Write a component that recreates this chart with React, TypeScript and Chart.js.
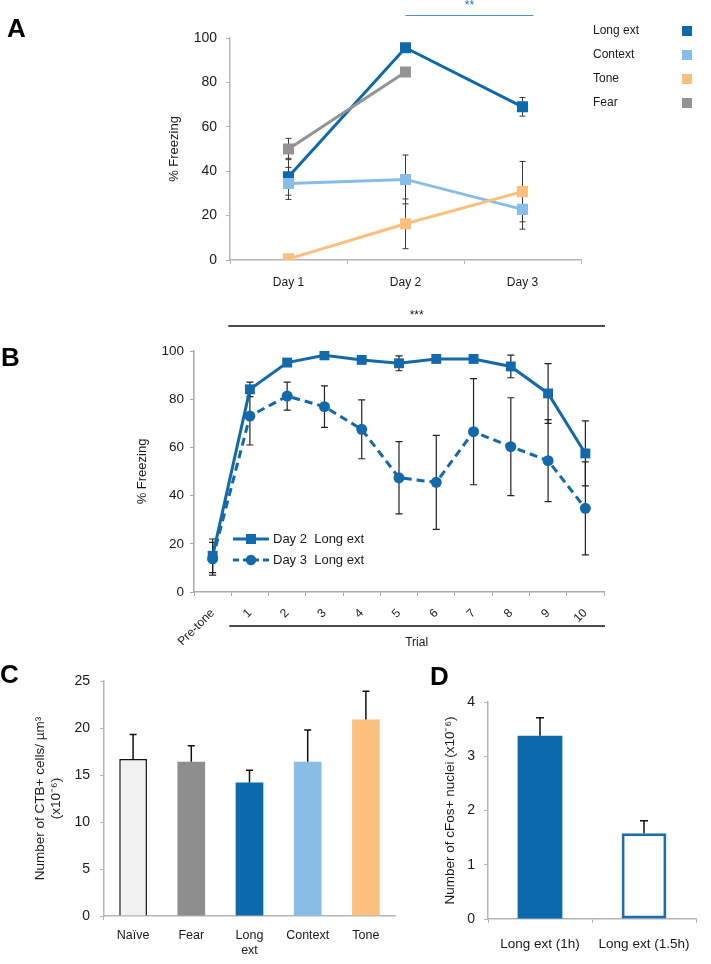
import React, { useEffect, useRef } from 'react';
import { Chart, registerables } from 'chart.js';

Chart.register(...registerables);

const FONT = '"Liberation Sans", Arial, Helvetica, sans-serif';
Chart.defaults.font.family = FONT;
Chart.defaults.color = '#1a1a1a';

// ---------------- Panel A data ----------------
const daysA = ['Day 1', 'Day 2', 'Day 3'];
const legendA = ['Long ext', 'Context', 'Tone', 'Fear'];
const longExtA = [37.5, 95.6, 69.0];
const longExtErrA = [8.3, 1.5, 4.2];
const contextA = [34.5, 36.3, 22.8];
const contextErrA = [7.2, 11.0, 8.9];
const toneA = [0.5, 16.3, 30.8];
const toneErrA = [0, 11.2, 13.6];
const fearA = [50.0, 84.7, null];
const fearErrA = [4.8, 1.5, null];
const sigA = '**';

// ---------------- Panel B data ----------------
const trialsB = ['Pre-tone', '1', '2', '3', '4', '5', '6', '7', '8', '9', '10'];
const legendB = ['Day 2  Long ext', 'Day 3  Long ext'];
const day2B = [15.0, 84.1, 95.2, 98.2, 96.3, 94.9, 96.7, 96.7, 93.6, 82.4, 57.5];
const day2ErrB = [7.0, 3.0, 1.5, 1.0, 1.0, 3.1, 1.0, 1.0, 4.7, 12.4, 13.5];
const day3B = [13.8, 73.0, 81.3, 76.9, 67.5, 47.4, 45.5, 66.5, 60.3, 54.5, 34.7];
const day3ErrB = [6.8, 12.0, 5.8, 8.6, 12.2, 15.0, 19.5, 22.0, 20.3, 17.0, 19.3];
const sigB = '***';
const xTitleB = 'Trial';

// ---------------- Panel C data ----------------
const groupsC = ['Naïve', 'Fear', ['Long', 'ext'], 'Context', 'Tone'];
const cellsC = [16.7, 16.4, 14.2, 16.4, 20.9];
const cellsErrC = [2.6, 1.7, 1.3, 3.4, 3.0];

// ---------------- Panel D data ----------------
const groupsD = ['Long ext (1h)', 'Long ext (1.5h)'];
const nucleiD = [3.38, 1.58];
const nucleiErrD = [0.33, 0.23];

// ---------------- colours ----------------
const BLUE = '#0c69ab';
const BLUE_B = '#1269ab';
const LIGHT = '#87bde6';
const ORANGE = '#fcc07d';
const GRAY = '#939393';
const NAIVE = '#f2f2f2';
const AXIS = '#b5b5b5';
const INK = '#1a1a1a';

type ErrSpec = { ds: number; err: (number | null)[]; up?: boolean; color: string; lw: number; cap: number };

function errorBars(id: string, specs: ErrSpec[], after: boolean) {
  const draw = (chart: any) => {
    const ctx = chart.ctx;
    const ys = chart.scales.y;
    ctx.save();
    specs.forEach((s) => {
      const meta = chart.getDatasetMeta(s.ds);
      const data = chart.data.datasets[s.ds].data;
      meta.data.forEach((el: any, i: number) => {
        const v = data[i];
        const e = s.err[i];
        if (v == null || e == null || e === 0) return;
        const x = el.x;
        const yTop = ys.getPixelForValue(v + e);
        const yBot = s.up ? ys.getPixelForValue(v) : ys.getPixelForValue(v - e);
        ctx.strokeStyle = s.color;
        ctx.lineWidth = s.lw;
        ctx.setLineDash([]);
        ctx.beginPath();
        ctx.moveTo(x, yBot);
        ctx.lineTo(x, yTop);
        ctx.moveTo(x - s.cap / 2, yTop);
        ctx.lineTo(x + s.cap / 2, yTop);
        if (!s.up) {
          ctx.moveTo(x - s.cap / 2, yBot);
          ctx.lineTo(x + s.cap / 2, yBot);
        }
        ctx.stroke();
      });
    });
    ctx.restore();
  };
  return after ? { id, afterDatasetsDraw: draw } : { id, beforeDatasetsDraw: draw };
}

function letter(ctx: CanvasRenderingContext2D, t: string, x: number, y: number) {
  ctx.save();
  ctx.font = `bold 26px ${FONT}`;
  ctx.fillStyle = '#000';
  ctx.textBaseline = 'alphabetic';
  ctx.textAlign = 'left';
  ctx.fillText(t, x, y);
  ctx.restore();
}

function axisOpts(extra: any) {
  return {
    grid: { drawOnChartArea: false, drawTicks: true, tickLength: 4, color: AXIS, lineWidth: 1 },
    border: { color: AXIS, width: 1.5 },
    ...extra,
  };
}

// ---------------- configs ----------------
function configA(): any {
  const deco = {
    id: 'decoA',
    afterDraw(chart: any) {
      const ctx = chart.ctx;
      letter(ctx, 'A', 7, 37);
      const xs = chart.scales.x;
      const x2 = xs.getPixelForValue(1);
      const x3 = xs.getPixelForValue(2) + 11;
      ctx.save();
      ctx.strokeStyle = '#4f8fca';
      ctx.lineWidth = 1;
      ctx.beginPath();
      ctx.moveTo(x2, 15.5);
      ctx.lineTo(x3, 15.5);
      ctx.stroke();
      ctx.fillStyle = '#2f6fb0';
      ctx.font = `12px ${FONT}`;
      ctx.textAlign = 'center';
      ctx.textBaseline = 'middle';
      ctx.fillText(sigA, (x2 + x3) / 2, 6);
      // legend: text left, swatch right
      const cols = [BLUE, LIGHT, ORANGE, GRAY];
      ctx.font = `12px ${FONT}`;
      ctx.textAlign = 'left';
      ctx.fillStyle = INK;
      legendA.forEach((t, i) => {
        const y = 31 + i * 24;
        ctx.fillStyle = INK;
        ctx.fillText(t, 593, y);
        ctx.fillStyle = cols[i];
        ctx.fillRect(682, y - 5, 10, 10);
      });
      ctx.restore();
    },
  };
  const mk = (label: string, data: any[], color: string) => ({
    label,
    data,
    borderColor: color,
    backgroundColor: color,
    borderWidth: 3,
    pointStyle: 'rect',
    pointRadius: 7.8,
    pointBorderWidth: 0,
    tension: 0,
    spanGaps: false,
  });
  return {
    type: 'line',
    data: {
      labels: daysA,
      datasets: [
        mk(legendA[2], toneA, ORANGE),
        mk(legendA[1], contextA, LIGHT),
        mk(legendA[3], fearA, GRAY),
        mk(legendA[0], longExtA, BLUE),
      ],
    },
    options: {
      responsive: false,
      animation: false,
      layout: { padding: { left: 160, right: 130, top: 38, bottom: 0 } },
      plugins: { legend: { display: false }, tooltip: { enabled: false } },
      scales: {
        x: axisOpts({
          type: 'category',
          offset: true,
          grid: { drawOnChartArea: false, drawTicks: true, tickLength: 4, color: AXIS, offset: true },
          ticks: { font: { size: 12 }, color: INK, padding: 11, maxRotation: 0 },
          afterFit: (s: any) => { s.height = 40; },
        }),
        y: axisOpts({
          min: 0,
          max: 100,
          ticks: { stepSize: 20, font: { size: 14 }, color: INK, padding: 9 },
          title: { display: true, text: '% Freezing', font: { size: 13 }, color: INK, padding: { top: 7, bottom: 0 } },
          afterFit: (s: any) => { s.width = 70; },
        }),
      },
    },
    plugins: [
      errorBars('errA', [
        { ds: 0, err: toneErrA, color: '#3a3a3a', lw: 1, cap: 6 },
        { ds: 1, err: contextErrA, color: '#3a3a3a', lw: 1, cap: 6 },
        { ds: 2, err: fearErrA, color: '#3a3a3a', lw: 1, cap: 6 },
        { ds: 3, err: longExtErrA, color: '#3a3a3a', lw: 1, cap: 6 },
      ], false),
      deco,
    ],
  };
}

function configB(): any {
  const deco = {
    id: 'decoB',
    afterDraw(chart: any) {
      const ctx = chart.ctx;
      letter(ctx, 'B', 1, 76);
      const xs = chart.scales.x;
      const start = (xs.getPixelForValue(0) + xs.getPixelForValue(1)) / 2 - 3;
      const end = chart.chartArea.right + 1;
      ctx.save();
      ctx.strokeStyle = '#111';
      ctx.lineWidth = 1.3;
      ctx.beginPath();
      ctx.moveTo(start, 36);
      ctx.lineTo(end, 36);
      ctx.moveTo(start + 1, 336);
      ctx.lineTo(end, 336);
      ctx.stroke();
      ctx.fillStyle = INK;
      ctx.font = `12px ${FONT}`;
      ctx.textAlign = 'center';
      ctx.textBaseline = 'middle';
      ctx.fillText(sigB, (start + end) / 2, 26);
      ctx.fillText(xTitleB, (start + end) / 2, 353);
      // legend inside plot
      ctx.strokeStyle = BLUE_B;
      ctx.fillStyle = BLUE_B;
      ctx.lineWidth = 3;
      [249, 270].forEach((y, i) => {
        ctx.setLineDash(i === 0 ? [] : [6, 4]);
        ctx.beginPath();
        ctx.moveTo(233, y);
        ctx.lineTo(269, y);
        ctx.stroke();
        ctx.setLineDash([]);
        if (i === 0) {
          ctx.fillRect(246, y - 5, 10, 10);
        } else {
          ctx.beginPath();
          ctx.arc(251, y, 5.2, 0, Math.PI * 2);
          ctx.fill();
        }
      });
      ctx.fillStyle = INK;
      ctx.font = `13px ${FONT}`;
      ctx.textAlign = 'left';
      ctx.fillText(legendB[0], 273, 249);
      ctx.fillText(legendB[1], 273, 270);
      ctx.restore();
    },
  };
  return {
    type: 'line',
    data: {
      labels: trialsB,
      datasets: [
        {
          label: legendB[1],
          data: day3B,
          borderColor: BLUE_B,
          backgroundColor: BLUE_B,
          borderWidth: 3,
          borderDash: [8, 5],
          pointStyle: 'circle',
          pointRadius: 5.5,
          pointBorderWidth: 0,
        },
        {
          label: legendB[0],
          data: day2B,
          borderColor: BLUE_B,
          backgroundColor: BLUE_B,
          borderWidth: 3,
          pointStyle: 'rect',
          pointRadius: 7,
          pointBorderWidth: 0,
        },
      ],
    },
    options: {
      responsive: false,
      animation: false,
      layout: { padding: { left: 130, right: 107, top: 61, bottom: 0 } },
      plugins: { legend: { display: false }, tooltip: { enabled: false } },
      scales: {
        x: axisOpts({
          type: 'category',
          offset: true,
          grid: { drawOnChartArea: false, drawTicks: true, tickLength: 4, color: '#a8a8a8', offset: true },
          border: { color: '#a8a8a8', width: 1.5 },
          ticks: { font: { size: 12 }, color: INK, padding: 10, maxRotation: 45, minRotation: 45, autoSkip: false },
          afterFit: (s: any) => { s.height = 68; },
        }),
        y: axisOpts({
          min: 0,
          max: 100,
          grid: { drawOnChartArea: false, drawTicks: true, tickLength: 4, color: '#a8a8a8' },
          border: { color: '#a8a8a8', width: 1.5 },
          ticks: { stepSize: 20, font: { size: 13.5 }, color: INK, padding: 6 },
          title: { display: true, text: '% Freezing', font: { size: 13 }, color: INK, padding: { top: 5, bottom: 0 } },
          afterFit: (s: any) => { s.width = 64; },
        }),
      },
    },
    plugins: [
      errorBars('errB', [
        { ds: 0, err: day3ErrB, color: '#222', lw: 1.2, cap: 7 },
        { ds: 1, err: day2ErrB, color: '#222', lw: 1.2, cap: 7 },
      ], false),
      deco,
    ],
  };
}

function configC(): any {
  const deco = {
    id: 'decoC',
    afterDraw(chart: any) {
      letter(chart.ctx, 'C', 0, 33);
    },
  };
  return {
    type: 'bar',
    data: {
      labels: groupsC,
      datasets: [
        {
          data: cellsC,
          backgroundColor: [NAIVE, '#8e8e8e', BLUE, LIGHT, ORANGE],
          borderColor: ['#111', 'rgba(0,0,0,0)', 'rgba(0,0,0,0)', 'rgba(0,0,0,0)', 'rgba(0,0,0,0)'],
          borderWidth: [1.5, 0, 0, 0, 0],
          borderSkipped: 'bottom',
          categoryPercentage: 1,
          barPercentage: 0.476,
        },
      ],
    },
    options: {
      responsive: false,
      animation: false,
      layout: { padding: { left: 28, right: 35, top: 31, bottom: 0 } },
      plugins: { legend: { display: false }, tooltip: { enabled: false } },
      scales: {
        x: axisOpts({
          type: 'category',
          offset: true,
          grid: {
            drawOnChartArea: false,
            drawTicks: true,
            tickLength: 4,
            offset: true,
            color: (c: any) => (c.index === 0 || c.index === groupsC.length ? AXIS : 'rgba(0,0,0,0)'),
          },
          ticks: { font: { size: 12.5 }, color: INK, padding: 8, maxRotation: 0 },
          afterFit: (s: any) => { s.height = 48; },
        }),
        y: axisOpts({
          min: 0,
          max: 25,
          ticks: { stepSize: 5, font: { size: 14 }, color: INK, padding: 10 },
          title: {
            display: true,
            text: ['Number of CTB+ cells/ µm³', '(x10⁻⁶)'],
            font: { size: 13.5, lineHeight: 1.2 },
            color: INK,
            padding: { top: 4, bottom: 0 },
          },
          afterFit: (s: any) => { s.width = 76; },
        }),
      },
    },
    plugins: [
      errorBars('errC', [{ ds: 0, err: cellsErrC, up: true, color: '#111', lw: 1.5, cap: 7 }], true),
      deco,
    ],
  };
}

function configD(): any {
  const deco = {
    id: 'decoD',
    afterDraw(chart: any) {
      letter(chart.ctx, 'D', 0, 35);
    },
  };
  return {
    type: 'bar',
    data: {
      labels: groupsD,
      datasets: [
        {
          data: nucleiD,
          backgroundColor: [BLUE, '#ffffff'],
          borderColor: [BLUE, '#1b6fae'],
          borderWidth: [0, 3],
          borderSkipped: false,
          categoryPercentage: 1,
          barPercentage: 0.43,
        },
      ],
    },
    options: {
      responsive: false,
      animation: false,
      layout: { padding: { left: 10, right: 15, top: 52, bottom: 0 } },
      plugins: { legend: { display: false }, tooltip: { enabled: false } },
      scales: {
        x: axisOpts({
          type: 'category',
          offset: true,
          grid: { drawOnChartArea: false, drawTicks: true, tickLength: 4, color: AXIS, offset: true },
          ticks: { font: { size: 13.5 }, color: INK, padding: 13, maxRotation: 0 },
          afterFit: (s: any) => { s.height = 45; },
        }),
        y: axisOpts({
          min: 0,
          max: 4,
          ticks: { stepSize: 1, font: { size: 14 }, color: INK, padding: 9 },
          title: {
            display: true,
            text: 'Number of cFos+ nuclei (x10⁻⁶)',
            font: { size: 13.5 },
            color: INK,
            padding: { top: 2, bottom: 0 },
          },
          afterFit: (s: any) => { s.width = 48; },
        }),
      },
    },
    plugins: [
      errorBars('errD', [{ ds: 0, err: nucleiErrD, up: true, color: '#111', lw: 1.5, cap: 8 }], true),
      deco,
    ],
  };
}

function Panel(props: { left: number; top: number; width: number; height: number; make: () => any }) {
  const ref = useRef<HTMLCanvasElement>(null);
  useEffect(() => {
    const chart = new Chart(ref.current as HTMLCanvasElement, props.make());
    return () => chart.destroy();
  }, []);
  const { left, top, width, height } = props;
  return (
    <div style={{ position: 'absolute', left, top, width, height }}>
      <canvas ref={ref} width={width} height={height} style={{ width, height, display: 'block' }} />
    </div>
  );
}

export default function App() {
  return (
    <div style={{ position: 'absolute', left: 0, top: 0, width: 711, height: 964, background: '#fff', overflow: 'hidden' }}>
      <Panel left={0} top={0} width={711} height={300} make={configA} />
      <Panel left={0} top={290} width={711} height={370} make={configB} />
      <Panel left={0} top={650} width={430} height={314} make={configC} />
      <Panel left={430} top={650} width={281} height={314} make={configD} />
    </div>
  );
}
